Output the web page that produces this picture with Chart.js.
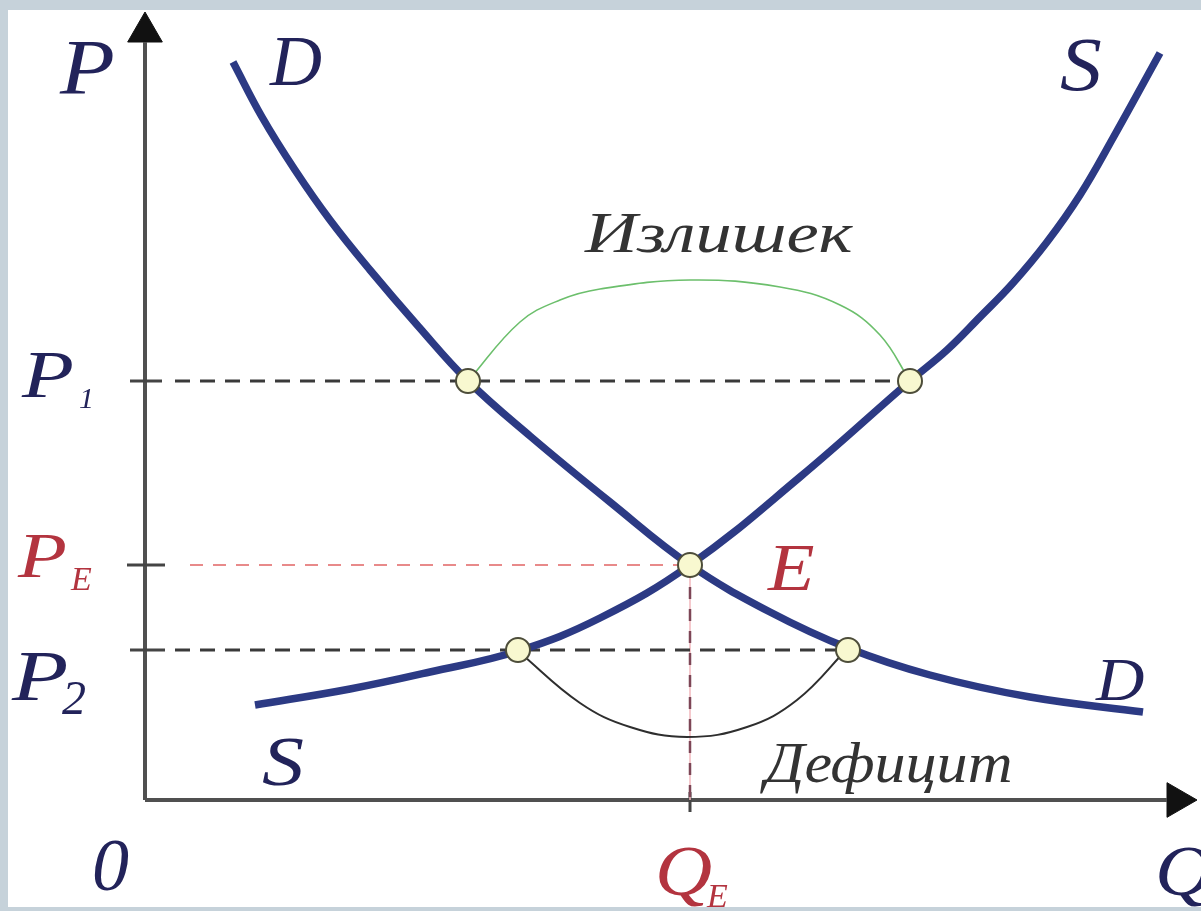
<!DOCTYPE html>
<html><head><meta charset="utf-8">
<script src="https://cdn.jsdelivr.net/npm/chart.js@4.4.1/dist/chart.umd.min.js"></script>
<style>
html,body{margin:0;padding:0;background:#c6d2da;width:1201px;height:911px;overflow:hidden;}
#wrap{position:absolute;left:8px;top:10px;width:1193px;height:897px;background:#fff;}
</style></head><body>
<div id="wrap"><canvas id="c"></canvas></div>
<script>
// ---- data (Q = quantity, P = price) ----
const demandQ = [8.8, 11.7, 15.0, 18.5, 22.5, 27.3, 32.3, 38.5, 46.5, 54.5, 62.5, 70.3, 78.5, 88.5, 99.8];
const demandP = [73.8, 68.3, 63.0, 58.0, 53.0, 47.4, 41.9, 36.4, 29.8, 23.5, 18.8, 15.2, 12.5, 10.3, 8.8];
const supplyQ = [11.0, 20.5, 28.5, 37.3, 45.5, 54.5, 65.5, 76.5, 80.2, 83.5, 86.8, 90.2, 93.5, 96.8, 101.5];
const supplyP = [9.5, 11.1, 12.8, 14.9, 18.2, 23.5, 32.3, 41.9, 45.0, 48.3, 51.7, 55.8, 60.5, 66.2, 74.7];
const surplusQ = [32.3, 37.5, 41.5, 45.5, 54.5, 63.5, 69.5, 73.5, 76.5];
const surplusP = [41.9, 47.8, 50.0, 51.1, 52.0, 51.3, 49.5, 46.5, 41.9];
const deficitQ = [37.3, 43.5, 48.5, 54.2, 60.2, 65.2, 70.3];
const deficitP = [14.9, 9.7, 7.3, 6.3, 7.3, 10.0, 15.2];
const priceLevels = {P1: 41.9, PE: 23.5, P2: 15.0};
const QE = 54.5;
const P1_demandQ = 32.3, P1_supplyQ = 76.5;
const P2_supplyQ = 37.3, P2_demandQ = 70.3;
const axisMaxQ = 103.2, axisMaxP = 76.8;

const NAVY = '#22235a', RED = '#b3343f', CURVE = '#2c3a84', GRAY = '#333333';

const pts = (xs, ys) => xs.map((x, i) => ({x, y: ys[i]}));
const seg = (x1, y1, x2, y2) => [{x: x1, y: y1}, {x: x2, y: y2}];

function lineDs(data, color, width, extra) {
  return Object.assign({data, showLine: true, borderColor: color, borderWidth: width,
    pointRadius: 0, fill: false, tension: 0, clip: false}, extra || {});
}

const datasets = [
  // intersection circles (on top)
  {data: [
      {x: P1_demandQ, y: priceLevels.P1}, {x: P1_supplyQ, y: priceLevels.P1},
      {x: QE, y: priceLevels.PE},
      {x: P2_supplyQ, y: priceLevels.P2}, {x: P2_demandQ, y: priceLevels.P2}],
    showLine: false, pointRadius: 12, pointBackgroundColor: '#f8f8d0',
    pointBorderColor: '#4d4d3a', pointBorderWidth: 2, clip: false, order: 0},
  lineDs(pts(demandQ, demandP), CURVE, 7.5, {tension: 0.4, order: 1, borderCapStyle: 'butt'}),
  lineDs(pts(supplyQ, supplyP), CURVE, 7.5, {tension: 0.4, order: 1, borderCapStyle: 'butt'}),
  lineDs(pts(surplusQ, surplusP), '#6cbf6c', 1.6, {tension: 0.4, order: 2}),
  lineDs(pts(deficitQ, deficitP), '#2e2e2e', 2, {tension: 0.4, order: 2}),
  // dashed guides
  lineDs(seg(3, priceLevels.P1, P1_supplyQ, priceLevels.P1), '#3a3a3a', 3, {borderDash: [15, 10], order: 3}),
  lineDs(seg(4.5, priceLevels.PE, QE, priceLevels.PE), '#e88a8a', 2, {borderDash: [13, 10], order: 3}),
  lineDs(seg(3, priceLevels.P2, P2_demandQ, priceLevels.P2), '#3a3a3a', 3, {borderDash: [15, 10], order: 3}),
  lineDs(seg(QE, priceLevels.PE, QE, 0), '#f2b8bd', 1.5, {order: 4}),
  lineDs(seg(QE, priceLevels.PE, QE, 0), '#7d4656', 2.5, {borderDash: [12, 10], order: 3}),
  // axis ticks
  lineDs(seg(-1.5, priceLevels.P1, 1.7, priceLevels.P1), '#444', 3, {order: 4}),
  lineDs(seg(-1.8, priceLevels.PE, 2.0, priceLevels.PE), '#444', 3, {order: 4}),
  lineDs(seg(-1.5, priceLevels.P2, 2.0, priceLevels.P2), '#444', 3, {order: 4}),
  lineDs(seg(QE, 0.8, QE, -1.2), '#444', 3, {order: 4}),
  // axes
  lineDs(seg(0, 0, 0, axisMaxP - 1), '#505050', 4, {order: 5}),
  lineDs(seg(0, 0, axisMaxQ - 1, 0), '#505050', 4, {order: 5}),
  {data: [{x: 0, y: axisMaxP}], showLine: false, pointStyle: 'triangle', pointRadius: 20,
    pointRotation: 0, pointBackgroundColor: '#111', pointBorderColor: '#111', pointBorderWidth: 1, clip: false, order: 5},
  {data: [{x: axisMaxQ, y: 0}], showLine: false, pointStyle: 'triangle', pointRadius: 20,
    pointRotation: 90, pointBackgroundColor: '#111', pointBorderColor: '#111', pointBorderWidth: 1, clip: false, order: 5}
];

// text labels anchored in data coordinates (left, baseline); h = horizontal stretch
const FONT = '"Liberation Serif", "DejaVu Serif", serif';
const labels = [
  {t: 'P', q: -8.5, p: 70.7, s: 78, c: NAVY, h: 1.15},
  {t: 'D', q: 12.5, p: 71.5, s: 72, c: NAVY},
  {t: 'S', q: 91.5, p: 71.0, s: 76, c: NAVY, h: 1.1},
  {t: 'Излишек', q: 44.0, p: 54.8, s: 58, c: GRAY, h: 1.25},
  {t: 'P', q: -12.3, p: 40.3, s: 68, c: NAVY, h: 1.25},
  {t: '1', q: -6.6, p: 39.2, s: 30, c: NAVY},
  {t: 'P', q: -12.7, p: 22.3, s: 64, c: RED, h: 1.25},
  {t: 'E', q: -7.4, p: 21.0, s: 34, c: RED},
  {t: 'P', q: -13.3, p: 10.0, s: 72, c: NAVY, h: 1.28},
  {t: '2', q: -8.3, p: 8.6, s: 48, c: NAVY},
  {t: 'E', q: 62.3, p: 21.0, s: 68, c: RED, h: 1.12},
  {t: 'D', q: 95.1, p: 10.0, s: 62, c: NAVY, h: 1.08},
  {t: 'S', q: 11.7, p: 1.5, s: 70, c: NAVY, h: 1.2},
  {t: 'Дефицит', q: 62.0, p: 1.8, s: 58, c: GRAY, h: 1.07},
  {t: '0', q: -5.3, p: -9.0, s: 74, c: NAVY},
  {t: 'Q', q: 51.0, p: -9.5, s: 72, c: RED, h: 1.1},
  {t: 'E', q: 56.2, p: -10.7, s: 34, c: RED},
  {t: 'Q', q: 101.0, p: -9.5, s: 72, c: NAVY, h: 1.1}
];

const textPlugin = {
  id: 'texts',
  afterDraw(chart) {
    const ctx = chart.ctx, xs = chart.scales.x, ys = chart.scales.y;
    labels.forEach(l => {
      ctx.save();
      ctx.textBaseline = 'alphabetic';
      ctx.textAlign = 'left';
      ctx.font = 'italic ' + l.s + 'px ' + FONT;
      ctx.fillStyle = l.c;
      ctx.translate(xs.getPixelForValue(l.q), ys.getPixelForValue(l.p));
      ctx.scale(l.h || 1, 1);
      ctx.fillText(l.t, 0, 0);
      ctx.restore();
    });
  }
};

new Chart(document.getElementById('c'), {
  type: 'scatter',
  data: {datasets},
  options: {
    responsive: true, maintainAspectRatio: false, animation: false, events: [],
    layout: {padding: 0, autoPadding: false},
    plugins: {legend: {display: false}, tooltip: {enabled: false}},
    scales: {
      x: {type: 'linear', display: false, min: -13.7, max: 105.6},
      y: {type: 'linear', display: false, min: -10.7, max: 79.0}
    }
  },
  plugins: [textPlugin]
});
</script>
</body></html>
